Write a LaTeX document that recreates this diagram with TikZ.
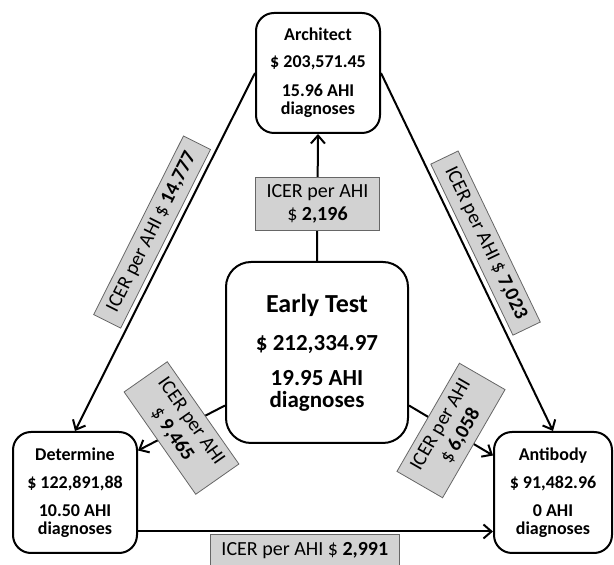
\documentclass[tikz,border=0pt]{standalone}
\usepackage{fontspec}
\setmainfont{Carlito}
\usetikzlibrary{arrows.meta}

\begin{document}
\begin{tikzpicture}[x=1pt, y=1pt,
  box/.style={draw, line width=2pt, rounded corners=18pt, fill=white, align=center, inner sep=0pt, font=\fontsize{18}{18}\selectfont\bfseries},
  icer/.style={draw=black!60, line width=0.8pt, fill=gray!35, align=center, inner xsep=11.5pt, inner ysep=7pt, font=\fontsize{20}{23}\selectfont},
  conn/.style={line width=2pt, -{Straight Barb[length=8pt,width=14pt]}}]
  \useasboundingbox (0,0) rectangle (614,565);
  \node[box, minimum width=124pt, minimum height=120pt] (arch) at (318,492) {Architect\\[9pt]\$ 203,571.45\\[11pt]15.96 AHI\\diagnoses};
  \node[box, rounded corners=25pt, minimum width=182pt, minimum height=181pt, font=\fontsize{23}{22}\selectfont\bfseries] (et) at (317,212.5) {{\fontsize{26}{26}\selectfont Early Test}\\[16pt]\$ 212,334.97\\[13pt]19.95 AHI\\diagnoses};
  \node[box, minimum width=124pt, minimum height=121pt] (det) at (75,72.5) {Determine\\[10pt]\$ 122,891,88\\[10pt]10.50 AHI\\diagnoses};
  \node[box, minimum width=118pt, minimum height=121pt] (ab) at (553,72.5) {Antibody\\[10pt]\$ 91,482.96\\[10pt]0 AHI\\diagnoses};
  \draw[conn] (et.north) -- (arch.south) node[pos=0.45, icer] {ICER per AHI\\\$ \textbf{2,196}};
  \draw[conn] (arch.west) -- (det.north) node[pos=0.47, sloped, above=5pt, icer] {ICER per AHI \$ \textbf{14,777}};
  \draw[conn] (arch.east) -- (ab.north) node[pos=0.5, sloped, above=5pt, icer] {ICER per AHI \$ \textbf{7,023}};
  \draw[conn] ([yshift=-53pt]et.west) -- ([yshift=42pt]det.east) node[midway, rotate=-55, icer] {ICER per AHI\\\$ \textbf{9,465}};
  \draw[conn] ([yshift=-53pt]et.east) -- ([yshift=37pt]ab.west) node[midway, rotate=60, icer] {ICER per AHI\\\$ \textbf{6,058}};
  \draw[conn] ([yshift=-39pt]det.east) -- ([yshift=-39pt]ab.west) node[pos=0.47, below=3pt, icer] {ICER per AHI \$ \textbf{2,991}};
\end{tikzpicture}
\end{document}
